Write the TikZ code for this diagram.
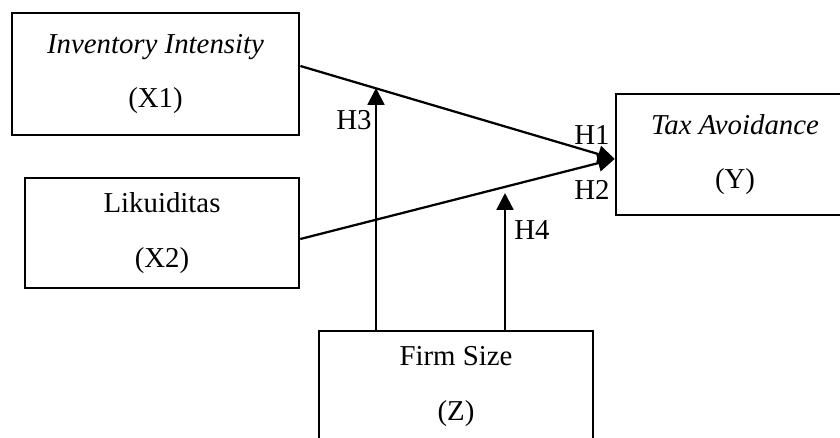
\documentclass[tikz,border=0pt]{standalone}
\usepackage{fontspec}
\setmainfont{Liberation Serif}
\usetikzlibrary{arrows.meta}
\begin{document}
\begin{tikzpicture}[
  x=0.025cm, y=-0.025cm,
  font=\fontsize{20.5}{24.5}\selectfont,
  box/.style={draw, line width=1.8pt, align=center, inner sep=0pt},
  lab/.style={inner sep=0pt},
  link/.style={line width=1.6pt, -{Triangle[length=0.42cm, width=0.42cm]}}
]
\useasboundingbox (0,0) rectangle (840,437);
\clip (0,0) rectangle (840,437);
\node[box, minimum width=7.18cm, minimum height=3.05cm] (x1) at (155.5,74) {\textit{Inventory Intensity}\\[14.5pt](X1)};
\node[box, minimum width=6.85cm, minimum height=2.75cm] (x2) at (162,233) {Likuiditas\\[14.5pt](X2)};
\node[box, minimum width=5.95cm, minimum height=3.02cm] (y) at (735,154.5) {\textit{Tax Avoidance}\\[14.5pt](Y)};
\node[box, minimum width=6.85cm, minimum height=2.78cm] (z) at (456,386.5) {Firm Size\\[14.5pt](Z)};
\coordinate (h3tip) at (376,88);
\coordinate (h4tip) at (505,193);
\draw[link] ([yshift=0.2cm]x1.east) -- ([yshift=-0.11cm]y.west);
\draw[link] ([yshift=-0.15cm]x2.east) -- ([yshift=-0.11cm]y.west);
\draw[link] (z.north -| h3tip) -- (h3tip);
\draw[link] (z.north -| h4tip) -- (h4tip);
\node[lab] (h1) at (592,135) {H1};
\node[lab] (h2) at (592,190) {H2};
\node[lab] (h3) at (354,120) {H3};
\node[lab] (h4) at (532,230) {H4};
\end{tikzpicture}
\end{document}
